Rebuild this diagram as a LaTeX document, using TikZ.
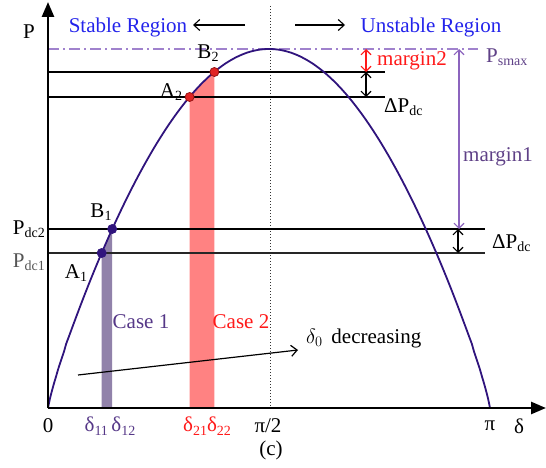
\documentclass[tikz,border=0pt]{standalone}
\usepackage{fontspec}
\setmainfont{Liberation Serif}
\usetikzlibrary{arrows.meta}
\definecolor{curvec}{RGB}{48,20,125}
\definecolor{stabc}{RGB}{35,35,235}
\definecolor{psmc}{RGB}{95,65,135}
\definecolor{dashc}{RGB}{160,130,205}
\definecolor{monec}{RGB}{140,100,190}
\definecolor{redband}{RGB}{255,130,130}
\definecolor{purband}{RGB}{145,130,170}
\definecolor{redpt}{RGB}{225,35,35}
\definecolor{darkred}{RGB}{150,20,20}
\definecolor{casec}{RGB}{85,55,135}
\definecolor{mredc}{RGB}{255,25,25}
\definecolor{grayt}{RGB}{85,85,85}
\newcommand{\sbx}[1]{\raisebox{-0.35ex}{\fontsize{14}{14}\selectfont #1}}
\begin{document}
\begin{tikzpicture}[x=1pt,y=-1pt,
  declare function={f(\t)=408-359*pow(abs(sin((\t-48)/442*180))+0.000001,0.85);},
  lbl/.style={inner sep=0pt, font=\fontsize{21}{21}\selectfont},
  hline/.style={line width=1.6pt, black},
  barb/.style={{Straight Barb[length=5pt,width=10pt]}-{Straight Barb[length=5pt,width=10pt]}, line width=1.1pt},
  onebarb/.style={-{Straight Barb[length=6pt,width=11pt]}, line width=1.1pt},
  axisline/.style={line width=2.6pt, -{Triangle[length=15pt,width=12pt]}},
  dot/.style={circle, inner sep=0pt, minimum size=9pt, line width=0.8pt}]
\useasboundingbox (0,0) rectangle (546,468);

% coordinates
\coordinate (O) at (48,408);
\coordinate (ytop) at (48,2);
\coordinate (xend) at (546,408);
\coordinate (dtop) at (270,6);
\coordinate (dbot) at (270,408);
\coordinate (pmL) at (48,49);
\coordinate (pmR) at (478,49);
\coordinate (u1L) at (48,72);
\coordinate (u1R) at (385,72);
\coordinate (u2L) at (48,97);
\coordinate (u2R) at (385,97);
\coordinate (l1L) at (48,229);
\coordinate (l1R) at (485,229);
\coordinate (l2L) at (48,253);
\coordinate (l2R) at (485,253);

% shaded bands
\fill[purband] (101.7,408) -- plot[domain=101.7:112.2,samples=15] (\x,{f(\x)}) -- (112.2,408) -- cycle;
\fill[redband] (189.6,408) -- plot[domain=189.6:214.4,samples=20] (\x,{f(\x)}) -- (214.4,408) -- cycle;

% dotted pi/2
\draw[dotted, line width=1pt, black!80] (dtop) -- (dbot);

% Psmax line
\draw[dashc, line width=1.3pt, dash pattern=on 11pt off 4pt on 2pt off 4pt] (pmL) -- (pmR);

% horizontal lines
\draw[hline] (u1L) -- (u1R);
\draw[hline] (u2L) -- (u2R);
\draw[hline] (l1L) -- (l1R);
\draw[hline, line width=1.4pt, black!85] (l2L) -- (l2R);

% curve
\draw[curvec, line width=1.8pt] plot[domain=48:490, samples=221, smooth] (\x,{f(\x)});

% axes
\draw[axisline] (O) -- (ytop);
\draw[axisline] (O) -- (xend);

% points
\node[dot, fill=curvec, draw=curvec] (B1) at (112.2,229) {};
\node[dot, fill=curvec, draw=curvec] (A1) at (101.7,253) {};
\node[dot, fill=redpt, draw=darkred] (B2) at (214.4,72) {};
\node[dot, fill=redpt, draw=darkred] (A2) at (189.6,97) {};

% measurement arrows
\coordinate (r1) at (366,49);
\coordinate (r2) at (366,72);
\coordinate (k1) at (366,72);
\coordinate (k2) at (366,97);
\coordinate (m1) at (459,49);
\coordinate (m2) at (459,229);
\coordinate (k3) at (458,229);
\coordinate (k4) at (458,253);
\draw[barb, mredc] (r1) -- (r2);
\draw[barb, black] (k1) -- (k2);
\draw[barb, monec] (m1) -- (m2);
\draw[barb, black] (k3) -- (k4);

% region arrows
\coordinate (sa1) at (245,25);
\coordinate (sa2) at (193,25);
\coordinate (ua1) at (295,25);
\coordinate (ua2) at (345,25);
\draw[onebarb] (sa1) -- (sa2);
\draw[onebarb] (ua1) -- (ua2);
\coordinate (da1) at (78,375);
\coordinate (da2) at (298,350);
\draw[onebarb, line width=1.2pt] (da1) -- (da2);

% labels
\node[lbl] (Plab) at (29,32) {P};
\node[lbl, stabc] (stab) at (128,27) {Stable Region};
\node[lbl, stabc] (unstab) at (431,27) {Unstable Region};
\node[lbl, psmc, anchor=west] (psmax) at (486,57) {P\sbx{smax}};
\node[lbl, mredc, anchor=west] (mar2) at (377,61) {margin2};
\node[lbl, anchor=west] (dp1) at (384,107) {ΔP\sbx{dc}};
\node[lbl, psmc, anchor=west] (mar1) at (463,157) {margin1};
\node[lbl, anchor=west] (dp2) at (492,243) {ΔP\sbx{dc}};
\node[lbl, anchor=east] (pdc2) at (45,229) {P\sbx{dc2}};
\node[lbl, grayt, anchor=east] (pdc1) at (45,262) {P\sbx{dc1}};
\node[lbl] (B1l) at (101,212) {B\sbx{1}};
\node[lbl] (A1l) at (76,273) {A\sbx{1}};
\node[lbl] (B2l) at (208,53) {B\sbx{2}};
\node[lbl] (A2l) at (171,92) {A\sbx{2}};
\node[lbl, casec] (case1) at (141,322) {Case 1};
\node[lbl, mredc] (case2) at (241,322) {Case 2};
\node[lbl, anchor=west] (dec) at (306,338) {$\delta_0$\, decreasing};
\node[lbl] (zero) at (48,426) {0};
\node[lbl, casec] (d1) at (110,426) {δ\sbx{11}\,δ\sbx{12}};
\node[lbl, mredc] (d2) at (207,426) {δ\sbx{21}δ\sbx{22}};
\node[lbl] (pihalf) at (268,426) {π/2};
\node[lbl] (pi) at (490,426) {π};
\node[lbl] (delta) at (519,426) {δ};
\node[lbl] (cap) at (271,450) {(c)};
\end{tikzpicture}
\end{document}
